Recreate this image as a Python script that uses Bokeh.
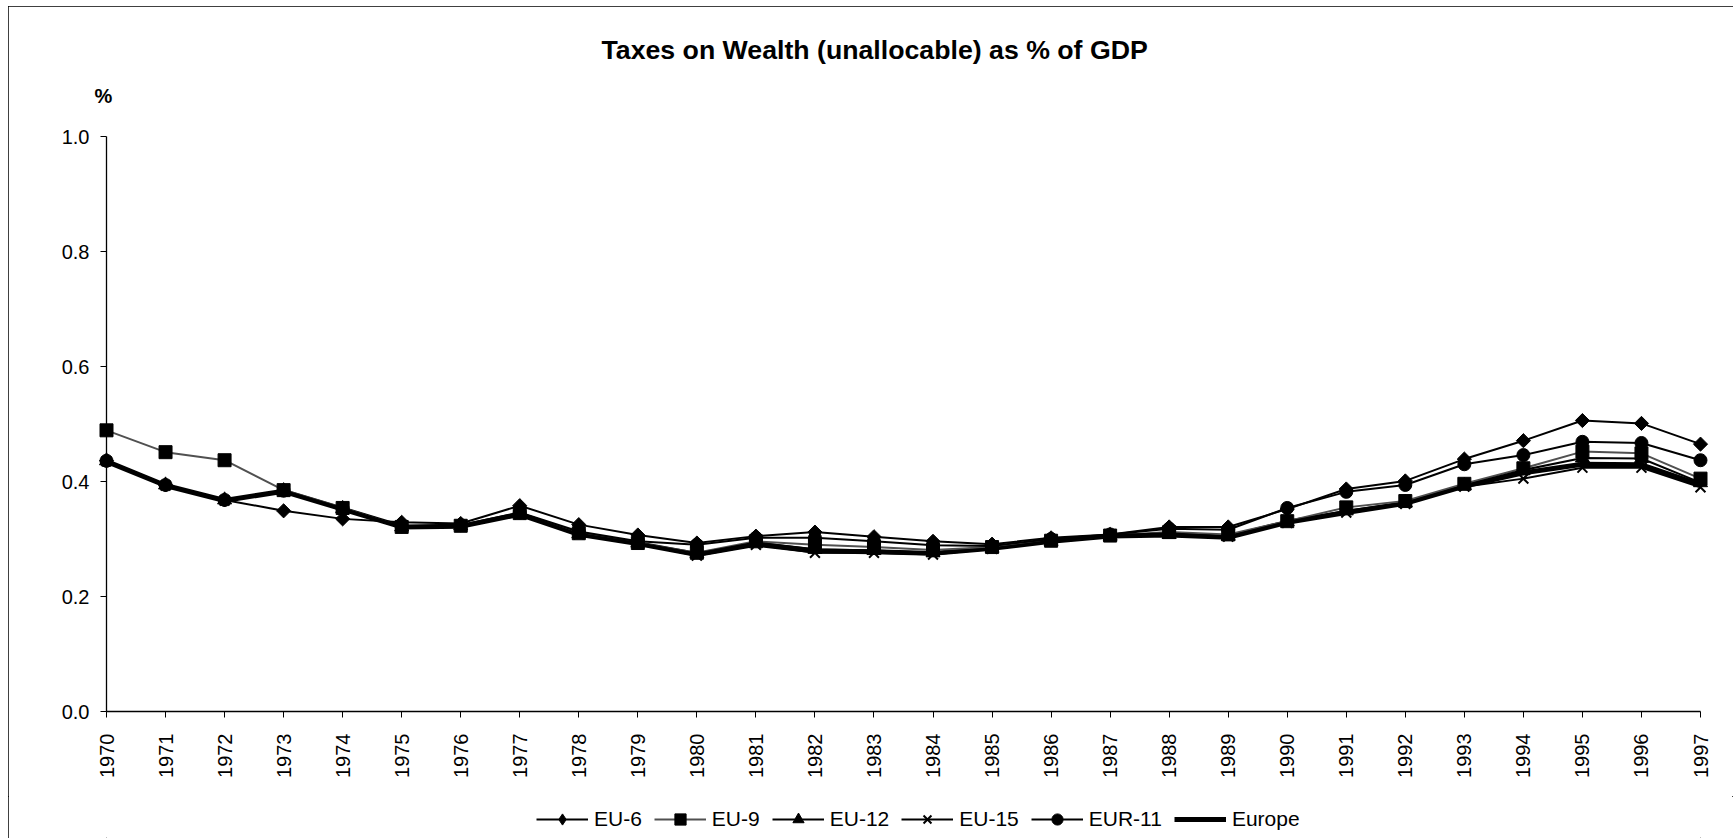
import numpy as np
from bokeh.plotting import figure
from bokeh.layouts import column
from bokeh.models import Range1d, Title, Legend, LegendItem, FixedTicker, NumeralTickFormatter
from bokeh.embed import file_html
from bokeh.resources import INLINE

years = list(range(1970, 1998))
eu6 = [0.436, 0.394, 0.368, 0.349, 0.335, 0.329, 0.327, 0.358, 0.325, 0.307,
       0.293, 0.305, 0.312, 0.304, 0.296, 0.291, 0.302, 0.308, 0.321, 0.321,
       0.352, 0.387, 0.401, 0.439, 0.471, 0.506, 0.501, 0.465]
eu9 = [0.489, 0.451, 0.437, 0.385, 0.354, 0.321, 0.323, 0.345, 0.310, 0.293,
       0.276, 0.296, 0.290, 0.286, 0.281, 0.286, 0.297, 0.306, 0.312, 0.308,
       0.331, 0.355, 0.366, 0.396, 0.423, 0.452, 0.449, 0.405]
eu12 = [0.436, 0.394, 0.368, 0.384, 0.353, 0.321, 0.323, 0.344, 0.309, 0.293,
        0.275, 0.294, 0.282, 0.280, 0.276, 0.284, 0.296, 0.305, 0.308, 0.305,
        0.330, 0.349, 0.363, 0.393, 0.420, 0.441, 0.440, 0.398]
eu15 = [0.435, 0.393, 0.367, 0.383, 0.351, 0.320, 0.322, 0.343, 0.308, 0.292,
        0.271, 0.290, 0.276, 0.276, 0.273, 0.283, 0.297, 0.307, 0.310, 0.304,
        0.328, 0.346, 0.361, 0.391, 0.405, 0.424, 0.424, 0.390]
eur11 = [0.436, 0.394, 0.368, 0.384, 0.353, 0.322, 0.324, 0.346, 0.313, 0.296,
         0.290, 0.302, 0.302, 0.296, 0.289, 0.288, 0.300, 0.308, 0.318, 0.316,
         0.354, 0.382, 0.394, 0.430, 0.446, 0.469, 0.467, 0.437]
europe = [0.435, 0.393, 0.367, 0.383, 0.352, 0.321, 0.322, 0.343, 0.308, 0.292,
          0.273, 0.291, 0.279, 0.278, 0.275, 0.284, 0.296, 0.305, 0.307, 0.303,
          0.329, 0.346, 0.362, 0.392, 0.415, 0.430, 0.429, 0.394]
y_ticks = [0.0, 0.2, 0.4, 0.6, 0.8, 1.0]

FONT = "Liberation Sans"

# ---------------- main chart ----------------
p = figure(frame_width=1594, frame_height=575, output_backend="svg",
           toolbar_location=None,
           x_range=Range1d(1970, 1997), y_range=Range1d(0, 1),
           min_border_left=98, min_border_right=33, min_border_top=130,
           min_border_bottom=85, title=None)
p.outline_line_color = None
p.grid.visible = False
p.background_fill_color = "white"
p.border_fill_color = "white"

for ax in (p.xaxis[0], p.yaxis[0]):
    ax.axis_line_color = "black"
    ax.axis_line_width = 1.3
    ax.major_tick_line_color = "black"
    ax.major_tick_out = 6
    ax.major_tick_in = 0
    ax.minor_tick_out = 0
    ax.minor_tick_in = 0
    ax.major_label_text_font = FONT
    ax.major_label_text_font_size = "20px"
    ax.major_label_text_color = "black"

p.xaxis.ticker = FixedTicker(ticks=years)
p.xaxis.major_label_orientation = np.pi / 2
p.xaxis.major_label_standoff = 16

p.yaxis.ticker = FixedTicker(ticks=y_ticks)
p.yaxis.formatter = NumeralTickFormatter(format="0.0")
p.yaxis.major_label_standoff = 11

# name, values, marker (chart), size, angle, line colour, legend marker
series = [
    ("EU-6", eu6, "square", 10, np.pi / 4, "black", "diamond"),
    ("EU-9", eu9, "square", 13, 0.0, "#505050", "square"),
    ("EU-12", eu12, "triangle", 14, 0.0, "black", "triangle"),
    ("EU-15", eu15, "x", 14, 0.0, "black", "x"),
    ("EUR-11", eur11, "circle", 13, 0.0, "black", "circle"),
]

p.line(years, europe, line_color="black", line_width=5, level="overlay")
for name, vals, marker, size, ang, lc, lm in series:
    p.line(years, vals, line_color=lc, line_width=2, level="overlay")
for name, vals, marker, size, ang, lc, lm in series:
    p.scatter(years, vals, marker=marker, size=size, angle=ang,
              fill_color="black", line_color="black",
              line_width=2 if marker == "x" else 1, level="overlay")

pct = Title(text="%", align="left", offset=-12, vertical_align="top",
            standoff=56, text_font=FONT, text_font_style="bold",
            text_font_size="20px", text_color="black")
main_title = Title(text="Taxes on Wealth (unallocable) as % of GDP", align="left",
                   offset=495, vertical_align="top", standoff=-21, text_font=FONT,
                   text_font_style="bold", text_font_size="26.7px", text_color="black")
p.add_layout(pct, "above")
p.add_layout(main_title, "above")

# ---------------- legend strip (same series, drawn out of view) ----------------
q = figure(width=1725, height=42, output_backend="svg", toolbar_location=None,
           x_range=Range1d(1970, 1997), y_range=Range1d(5, 6),
           min_border=0, title=None)
q.axis.visible = False
q.grid.visible = False
q.outline_line_color = None
q.background_fill_color = "white"
q.border_fill_color = "white"

items = []
for name, vals, marker, size, ang, lc, lm in series:
    rl = q.line(years, vals, line_color=lc, line_width=2)
    rs = q.scatter(years, vals, marker=lm, size=size,
                   fill_color="black", line_color="black",
                   line_width=2 if lm == "x" else 1)
    items.append(LegendItem(label=name, renderers=[rl, rs]))
r_eur_q = q.line(years, europe, line_color="black", line_width=5)
items.append(LegendItem(label="Europe", renderers=[r_eur_q]))

legend = Legend(items=items, orientation="horizontal", location=(430, 5),
                glyph_width=52, glyph_height=28, label_standoff=6, spacing=12,
                padding=0, margin=0, border_line_color=None,
                background_fill_alpha=0, label_text_font=FONT,
                label_text_font_size="21px", label_text_color="black")
q.add_layout(legend)

layout = column(p, q, spacing=0)
layout.styles = {"margin": "6px 0 0 8px", "outline": "1px solid #000",
                 "outline-offset": "-1px"}

open("out.html", "w").write(file_html(layout, INLINE))
